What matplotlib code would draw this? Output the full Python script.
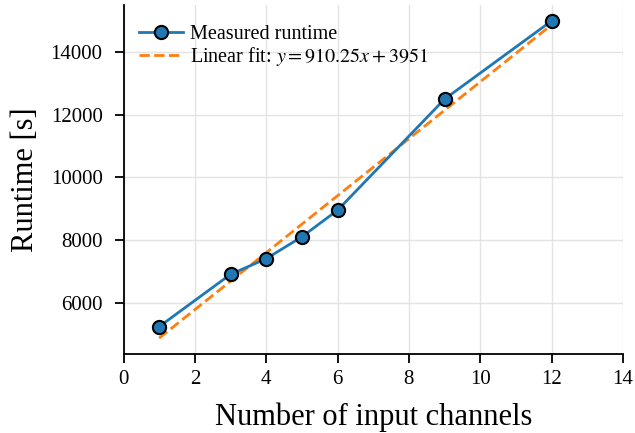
import numpy as np
import matplotlib
matplotlib.use("Agg")
import matplotlib.pyplot as plt

channels = [1, 3, 4, 5, 6, 9, 12]
runtime = [5230, 6900, 7400, 8100, 8950, 12500, 15000]
fit_slope = 910.25
fit_intercept = 3951
xticks = [0, 2, 4, 6, 8, 10, 12, 14]

plt.rcParams['font.family'] = ['Liberation Serif', 'DejaVu Serif']
plt.rcParams['mathtext.fontset'] = 'stix'

fig = plt.figure(figsize=(6.35, 4.33), dpi=100)
ax = fig.add_axes([123.5/635, 1-354/433, (623-123.5)/635, (354-5)/433])

x = np.array(channels, dtype=float)
fit_y = fit_slope * x + fit_intercept

ax.plot(channels, runtime, '-o', color='#1f77b4', lw=2, marker='o', ms=9.5,
        markerfacecolor='#1f77b4', markeredgecolor='black', markeredgewidth=1.5,
        label='Measured runtime', zorder=3)
ax.plot(channels, fit_y, '--', color='#ff7f0e', lw=2,
        label=r'Linear fit: $y = %.2f x + %d$' % (fit_slope, fit_intercept), zorder=2)

ax.set_xlim(0, 14)
ax.set_xticks(xticks)
ax.grid(True, color='#e3e3e3', lw=1)
ax.set_axisbelow(True)
for s in ['top', 'right']:
    ax.spines[s].set_visible(False)
for s in ['left', 'bottom']:
    ax.spines[s].set_linewidth(1.3)
ax.tick_params(labelsize=15, width=1.3, length=6.5)
ax.tick_params(axis='x', pad=5)
ax.tick_params(axis='y', pad=8.5)
ax.set_xlabel('Number of input channels', fontsize=22, labelpad=9.5)
ax.set_ylabel('Runtime [s]', fontsize=22, labelpad=7.5)
ax.legend(loc='upper left', bbox_to_anchor=(0, 1 - 4/349), frameon=False,
          fontsize=14.5, handlelength=2.2, borderaxespad=0.37,
          handletextpad=0.35, labelspacing=0.05)

fig.savefig('out.png', dpi=100)
